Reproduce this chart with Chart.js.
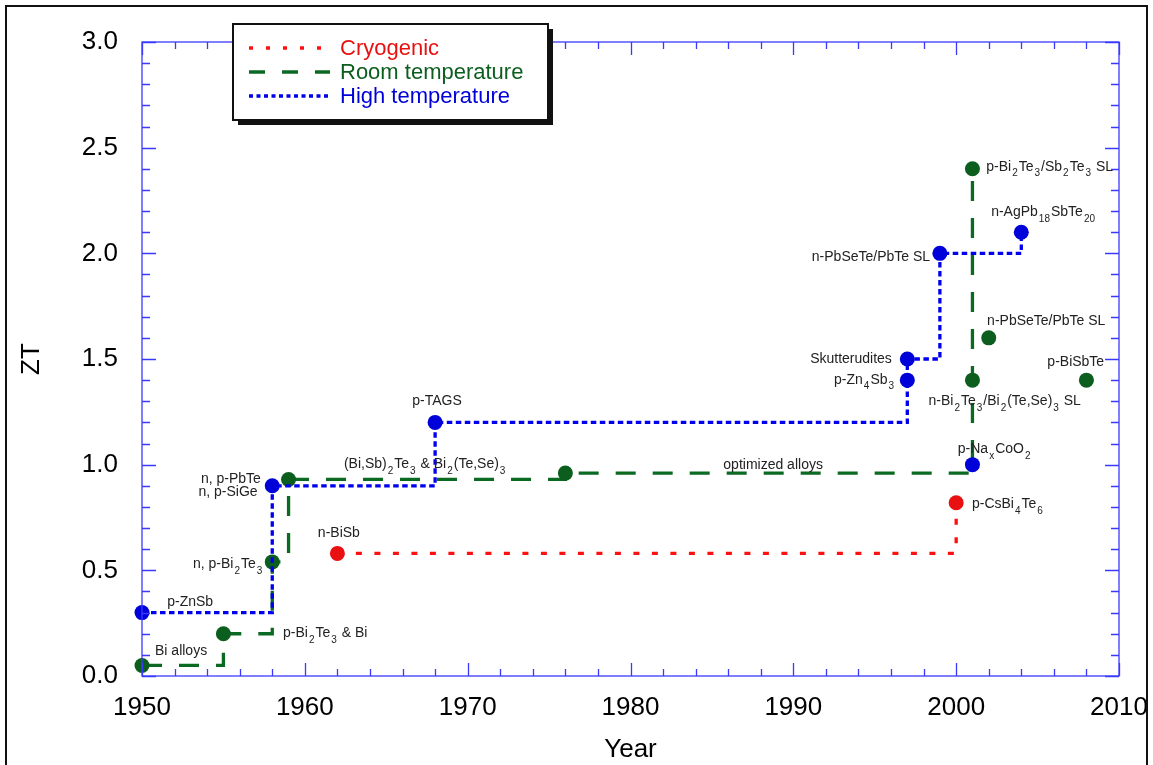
<!DOCTYPE html>
<html>
<head>
<meta charset="utf-8">
<script src="https://cdn.jsdelivr.net/npm/chart.js@4.4.1/dist/chart.umd.min.js"></script>
<style>
  html, body { margin: 0; padding: 0; background: #fff; }
  #wrap { width: 1153px; height: 765px; position: relative; }
</style>
</head>
<body>
<div id="wrap"><canvas id="ztChart" width="1153" height="765"></canvas></div>
<script>
/* series names + colours */
const seriesNames  = ['Cryogenic', 'Room temperature', 'High temperature'];
const lineColors   = ['#ff1010', '#0b6a22', '#0000ee'];
const pointColors  = ['#e81010', '#0b5e1e', '#0000d8'];

/* cryogenic (step) */
const cryoYears = [1962, 2000];
const cryoZT    = [0.58, 0.82];

/* room temperature (step) + stand-alone points */
const roomYears = [1950, 1955, 1958, 1959, 1976, 2001, 2001];
const roomZT    = [0.05, 0.20, 0.54, 0.93, 0.96, 1.40, 2.40];
const roomSoloYears = [2002, 2008];
const roomSoloZT    = [1.60, 1.40];

/* high temperature (step) + stand-alone point */
const highYears = [1950, 1958, 1968, 1997, 1997, 1999, 2004];
const highZT    = [0.30, 0.90, 1.20, 1.40, 1.50, 2.00, 2.10];
const highSoloYears = [2001];
const highSoloZT    = [1.00];

/* axis ticks */
const xTickLabels = [1950, 1960, 1970, 1980, 1990, 2000, 2010];
const yTickLabels = [0, 0.5, 1.0, 1.5, 2.0, 2.5, 3.0];

/* material labels: text ({..} = subscript), year, ZT, align */
const matLabels = [
  ['Bi alloys',                      1950.8,  0.118, 'left'],
  ['p-ZnSb',                         1951.55, 0.35,  'left'],
  ['p-Bi{2}Te{3} & Bi',              1958.66, 0.204, 'left'],
  ['n, p-Bi{2}Te{3}',                1957.45, 0.53,  'right'],
  ['n, p-PbTe',                      1957.3,  0.933, 'right'],
  ['n, p-SiGe',                      1957.1,  0.871, 'right'],
  ['n-BiSb',                         1960.8,  0.677, 'left'],
  ['(Bi,Sb){2}Te{3} & Bi{2}(Te,Se){3}', 1962.4, 1.004, 'left'],
  ['p-TAGS',                         1966.6,  1.302, 'left'],
  ['optimized alloys',               1985.7,  0.999, 'left'],
  ['p-Bi{2}Te{3}/Sb{2}Te{3} SL',     2001.85, 2.41,  'left'],
  ['n-AgPb{18}SbTe{20}',             2002.15, 2.193, 'left'],
  ['n-PbSeTe/PbTe SL',               1998.4,  1.984, 'right'],
  ['n-PbSeTe/PbTe SL',               2001.9,  1.681, 'left'],
  ['Skutterudites',                  1996.05, 1.501, 'right'],
  ['p-BiSbTe',                       2005.6,  1.487, 'left'],
  ['p-Zn{4}Sb{3}',                   1996.25, 1.402, 'right'],
  ['n-Bi{2}Te{3}/Bi{2}(Te,Se){3} SL', 1998.3, 1.302, 'left'],
  ['p-Na{x}CoO{2}',                  2000.1,  1.075, 'left'],
  ['p-CsBi{4}Te{6}',                 2000.97, 0.815, 'left']
];

const FONT = '"Liberation Sans", Arial, sans-serif';
const dashes = [[6, 12.5], [20, 17], [5.5, 3.5]];

const pts = (xs, ys) => xs.map((x, i) => ({ x, y: ys[i] }));

function stepSet(i, xs, ys){
  return {
    data: pts(xs, ys), stepped: true,
    borderColor: lineColors[i], borderWidth: 3.3, borderDash: dashes[i],
    pointRadius: 7.5, pointBackgroundColor: pointColors[i], pointBorderWidth: 0,
    clip: false, order: 2 - i
  };
}
function soloSet(i, xs, ys){
  return {
    data: pts(xs, ys), showLine: false,
    pointRadius: 7.5, pointBackgroundColor: pointColors[i], pointBorderWidth: 0,
    clip: false
  };
}

/* text with subscripts */
function drawRich(ctx, str, x, y, align, size){
  const parts = [];
  const re = /([^{]+)|\{([^}]*)\}/g;
  let m;
  while ((m = re.exec(str))) parts.push(m[1] !== undefined ? { t: m[1], sub: false } : { t: m[2], sub: true });
  const subSize = Math.round(size * 0.72);
  let total = 0;
  parts.forEach(p => {
    ctx.font = `${p.sub ? subSize : size}px ${FONT}`;
    p.w = ctx.measureText(p.t).width + (p.sub ? 2 : 0);
    total += p.w;
  });
  let cx = align === 'right' ? x - total : x;
  parts.forEach(p => {
    ctx.font = `${p.sub ? subSize : size}px ${FONT}`;
    ctx.fillText(p.t, cx + (p.sub ? 1 : 0), p.sub ? y + 7 : y);
    cx += p.w;
  });
}

const framePlugin = {
  id: 'frame',
  afterDraw(chart){
    const { ctx, chartArea: a, scales: { x, y } } = chart;
    ctx.save();
    // outer black border
    ctx.strokeStyle = '#111';
    ctx.lineWidth = 2;
    ctx.strokeRect(6, 6, 1141, 800);

    // blue plot frame + inward ticks
    ctx.strokeStyle = '#3a3aff';
    ctx.lineWidth = 1.3;
    ctx.strokeRect(a.left, a.top, a.right - a.left, a.bottom - a.top);
    ctx.beginPath();
    for (let yr = 1950; yr <= 2010; yr += 2){
      const px = Math.round(x.getPixelForValue(yr)) + 0.5;
      const len = yr % 10 === 0 ? 13 : 7;
      ctx.moveTo(px, a.bottom); ctx.lineTo(px, a.bottom - len);
      ctx.moveTo(px, a.top);    ctx.lineTo(px, a.top + len);
    }
    for (let k = 0; k <= 30; k++){
      const py = Math.round(y.getPixelForValue(k / 10)) + 0.5;
      const len = k % 5 === 0 ? 14 : 8;
      ctx.moveTo(a.left, py);  ctx.lineTo(a.left + len, py);
      ctx.moveTo(a.right, py); ctx.lineTo(a.right - len, py);
    }
    ctx.stroke();

    // material labels
    ctx.fillStyle = '#222';
    ctx.textBaseline = 'middle';
    matLabels.forEach(([t, yr, zt, al]) => {
      drawRich(ctx, t, x.getPixelForValue(yr), y.getPixelForValue(zt), al, 14);
    });

    // legend box
    const lx = a.left + 91, ly = a.top - 18, lw = 315, lh = 96;
    ctx.fillStyle = '#111';
    ctx.fillRect(lx + 5, ly + 5, lw, lh);
    ctx.fillStyle = '#fff';
    ctx.fillRect(lx, ly, lw, lh);
    ctx.strokeStyle = '#111';
    ctx.lineWidth = 2;
    ctx.strokeRect(lx, ly, lw, lh);
    seriesNames.forEach((name, i) => {
      const yy = ly + 24 + i * 24;
      ctx.strokeStyle = lineColors[i];
      ctx.lineWidth = 3.5;
      ctx.setLineDash(i === 1 ? [16, 17] : i === 0 ? [4, 13] : [4, 3.5]);
      ctx.beginPath();
      ctx.moveTo(lx + 16, yy); ctx.lineTo(lx + 97, yy);
      ctx.stroke();
      ctx.setLineDash([]);
      ctx.fillStyle = pointColors[i];
      ctx.font = `22px ${FONT}`;
      ctx.fillText(name, lx + 107, yy + 1);
    });
    ctx.restore();
  }
};

new Chart(document.getElementById('ztChart'), {
  type: 'line',
  data: {
    datasets: [
      stepSet(0, cryoYears, cryoZT),
      stepSet(1, roomYears, roomZT),
      stepSet(2, highYears, highZT),
      soloSet(1, roomSoloYears, roomSoloZT),
      soloSet(2, highSoloYears, highSoloZT)
    ]
  },
  options: {
    responsive: false,
    animation: false,
    layout: { padding: { left: 0, top: 42, right: 34, bottom: 0 } },
    plugins: { legend: { display: false }, tooltip: { enabled: false } },
    scales: {
      x: {
        type: 'linear', min: 1950, max: 2010,
        afterBuildTicks: s => { s.ticks = xTickLabels.map(v => ({ value: v })); },
        ticks: { font: { size: 26, family: FONT }, color: '#000', padding: 16, maxRotation: 0, autoSkip: false,
                 callback: v => String(v) },
        grid: { display: false, drawTicks: false },
        border: { display: false },
        title: { display: true, text: 'Year', color: '#000', font: { size: 26, family: FONT }, padding: { top: 0, bottom: 0 } },
        afterFit: s => { s.height = 89; s.paddingLeft = 0; s.paddingRight = 0; }
      },
      y: {
        type: 'linear', min: 0, max: 3,
        afterBuildTicks: s => { s.ticks = yTickLabels.map(v => ({ value: v })); },
        ticks: { font: { size: 26, family: FONT }, color: '#000', padding: 24, callback: v => Number(v).toFixed(1) },
        grid: { display: false, drawTicks: false },
        border: { display: false },
        title: { display: true, text: 'ZT', color: '#000', font: { size: 26, family: FONT }, padding: { top: 16, bottom: 0 } },
        afterFit: s => { s.width = 142; s.paddingTop = 0; s.paddingBottom = 0; }
      }
    }
  },
  plugins: [framePlugin]
});
</script>
</body>
</html>
